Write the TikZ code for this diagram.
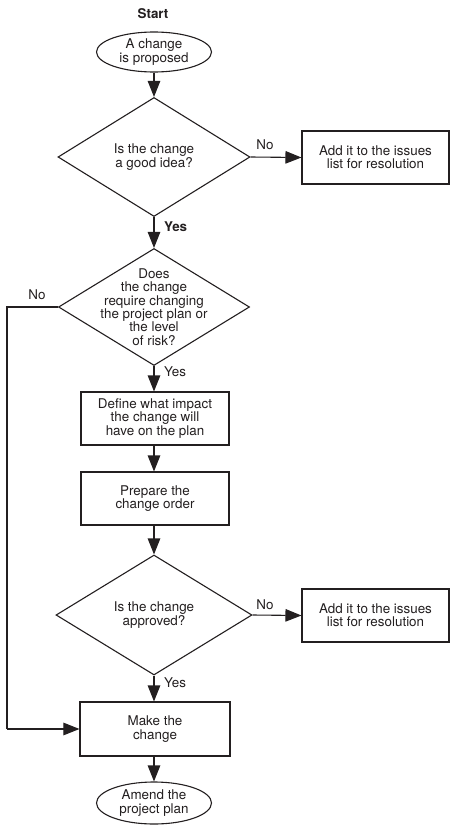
\documentclass[tikz,border=0pt]{standalone}
\usepackage{fontspec}
\setmainfont{TeX Gyre Heros}
\usetikzlibrary{shapes.geometric,arrows.meta}
\definecolor{ink}{HTML}{231F20}
\begin{document}
\begin{tikzpicture}[x=1bp,y=-1bp,
  every node/.style={font=\fontsize{13.4bp}{13.3bp}\selectfont, text=ink},
  flow/.style={draw=ink, line width=1.1bp, -{Triangle[length=16bp,width=12.5bp]}},
  wire/.style={draw=ink, line width=1.1bp},
  terminal/.style={ellipse, draw=ink, line width=1.1bp, fill=white, inner sep=0pt,
                   minimum width=115bp, minimum height=40bp, align=center},
  process/.style={rectangle, draw=ink, line width=1.1bp, fill=white, inner sep=0pt,
                  minimum width=148bp, minimum height=53bp, align=center},
  decision/.style={diamond, draw=ink, line width=1.1bp, fill=white, inner sep=0pt},
  caption/.style={align=center, inner sep=0pt},
  tag/.style={inner sep=0pt}
]
\useasboundingbox (0,0) rectangle (450,825);

% terminals
\node[tag, font=\fontsize{13.4bp}{13.3bp}\selectfont\bfseries] (start) at (153,14) {Start};
\node[terminal] (e1) at (154,52) {A change\\is proposed};
\node[terminal, minimum height=42bp] (e2) at (154,803) {Amend the\\project plan};

% decisions
\node[decision, minimum width=192bp, minimum height=119bp] (d1) at (154,157) {};
\node[caption] (d1t) at (d1) {Is the change\\a good idea?};
\node[decision, minimum width=191bp, minimum height=117bp] (d2) at (154,307) {};
\node[caption] (d2t) at (154,307) {Does\\the change\\require changing\\the project plan or\\the level\\of risk?};
\node[decision, minimum width=196bp, minimum height=120bp] (d3) at (154,615) {};
\node[caption] (d3t) at (d3) {Is the change\\approved?};

% processes
\node[process, minimum width=147bp] (b1) at (375.5,157.5) {Add it to the issues\\list for resolution};
\node[process] (b2) at (155,418.5) {Define what impact\\the change will\\have on the plan};
\node[process] (b3) at (155,498.5) {Prepare the\\change order};
\node[process, minimum width=147bp] (b4) at (375.5,615.5) {Add it to the issues\\list for resolution};
\node[process, minimum width=150bp, minimum height=54bp] (b5) at (155,729) {Make the\\change};

% connectors
\draw[flow] (e1.south) -- (d1.north);
\draw[flow] (d1.east) -- (b1.west);
\draw[flow] (d1.south) -- (d2.north);
\draw[flow] (d2.south) -- (d2.south |- b2.north);
\draw[flow] (b2.south -| d2.south) -- (b3.north -| d2.south);
\draw[flow] (b3.south -| d3.north) -- (d3.north);
\draw[flow] (d3.east) -- (b4.west);
\draw[flow] (d3.south) -- (d3.south |- b5.north);
\draw[flow] (b5.south -| e2.north) -- (e2.north);
\coordinate (loopTop) at (7,307);
\coordinate (loopBot) at (7,729);
\draw[wire] (d2.west) -- (loopTop) -- (loopBot);
\draw[flow] (loopBot) -- (b5.west);

% branch labels
\node[tag] (no1) at (265,145) {No};
\node[tag, anchor=west, font=\fontsize{13.4bp}{13.3bp}\selectfont\bfseries] (yes1) at (164,227) {Yes};
\node[tag] (no2) at (37,295) {No};
\node[tag, anchor=west] (yes2) at (164,372) {Yes};
\node[tag] (no3) at (265,605) {No};
\node[tag, anchor=west] (yes3) at (164,683) {Yes};
\end{tikzpicture}
\end{document}
